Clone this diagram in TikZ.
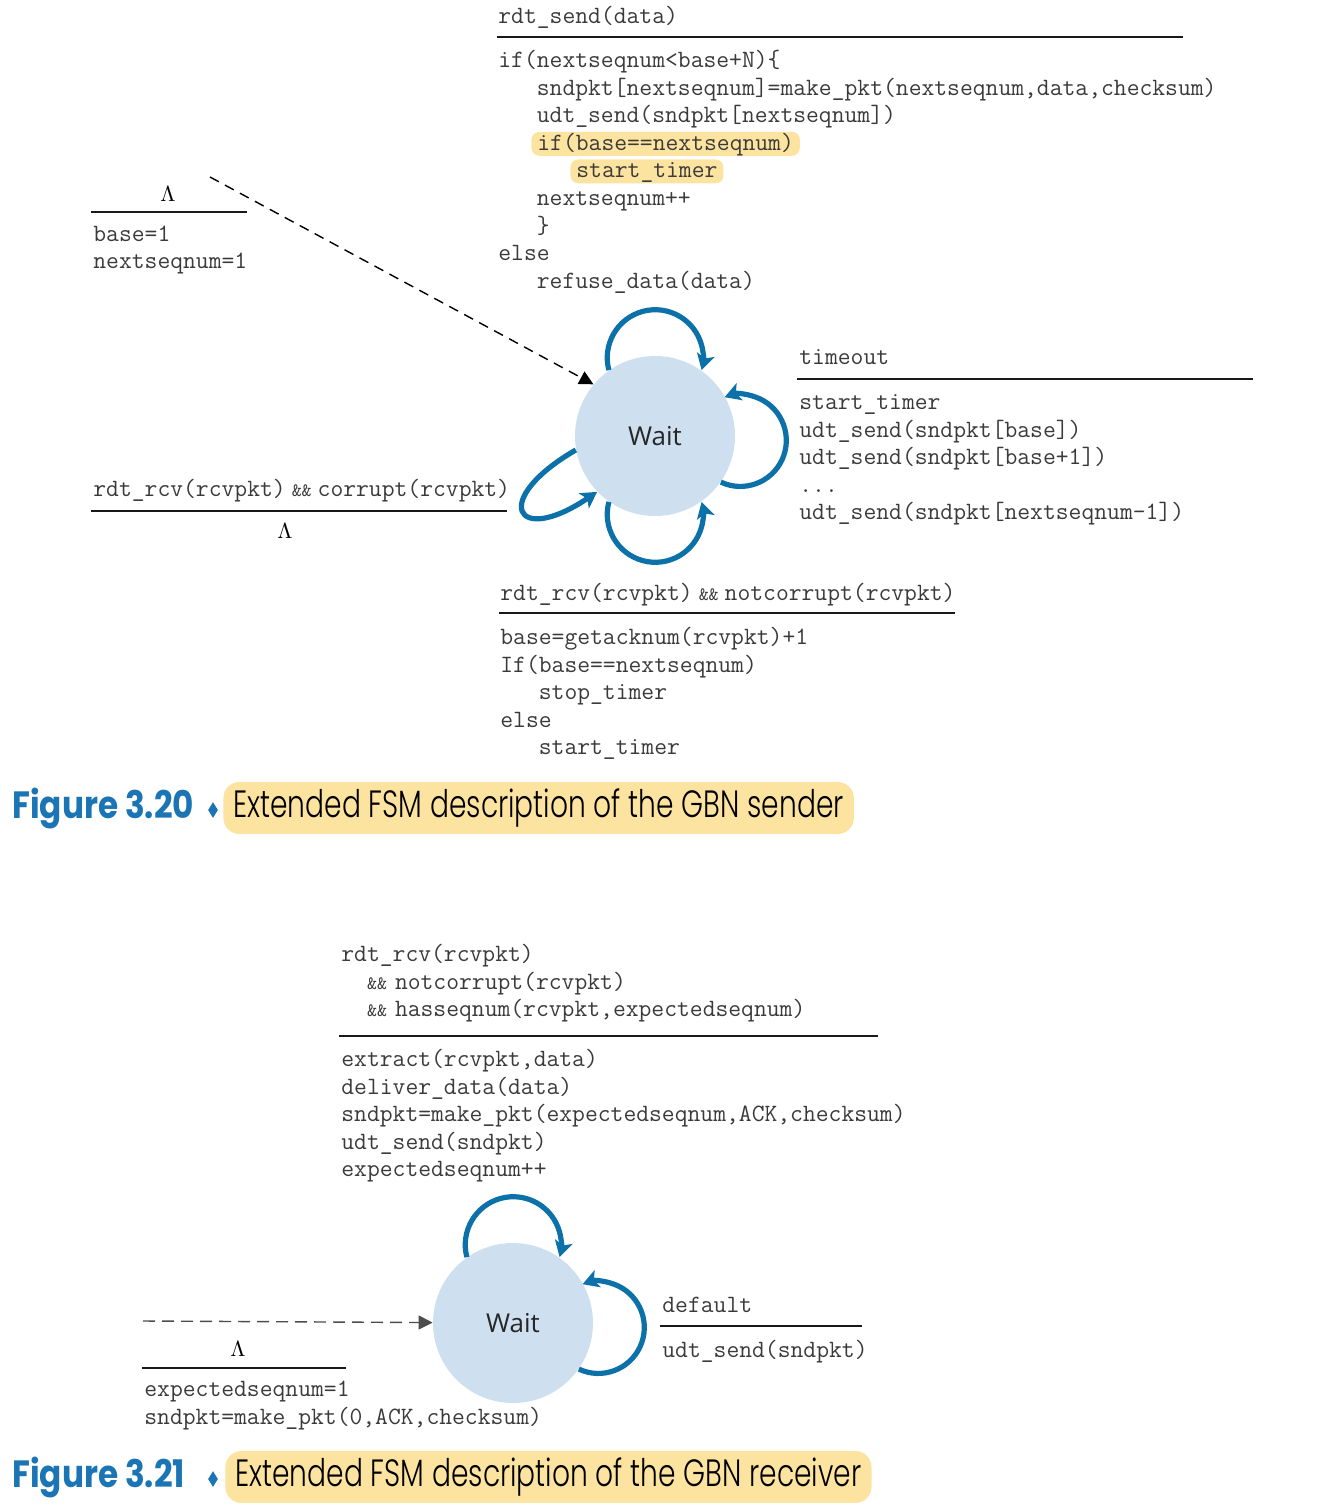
\documentclass[tikz,border=0pt]{standalone}
\usepackage{fontspec}
\usetikzlibrary{arrows.meta,shapes.geometric}
\newfontfamily\statefont{Open Sans}
\newfontfamily\capfont{Poppins}[FakeStretch=0.74, UprightFont=* Light]
\newfontfamily\fignofont{Poppins}[FakeStretch=0.86]
\definecolor{loopblue}{HTML}{0C71A9}
\definecolor{statefill}{HTML}{CEE0F0}
\definecolor{hilite}{HTML}{FDE3A0}
\definecolor{capblue}{HTML}{1B75B4}
\definecolor{codegray}{HTML}{3A3A3A}
\newcommand\ind{\phantom{000}}
\newcommand\aand{{\fontsize{9.5}{9.5}\selectfont\&\&}}
\begin{document}
\begin{tikzpicture}[x=0.5pt, y=0.5pt,
    code/.style={anchor=west, inner sep=0pt, text height=9pt, text depth=2.5pt,
      text=codegray, font=\ttfamily\fontsize{12.45}{14}\selectfont},
    hl/.style={fill=hilite, rounded corners=4pt, inner xsep=3pt, inner ysep=0.25pt},
    lam/.style={inner sep=0pt, font=\fontsize{11}{13}\selectfont},
    rule/.style={line width=1.2pt, draw=black!90},
    state/.style={circle, fill=statefill, minimum size=80pt, inner sep=0pt,
      font=\statefont\fontsize{13}{15}\selectfont, text=black!85},
    selfloop/.style={line width=2.6pt, draw=loopblue, -{Stealth[length=8pt, width=9pt, inset=2pt]}},
    init/.style={line width=0.7pt, dash pattern=on 5pt off 3.5pt, -{Triangle[length=7pt, width=7pt]}},
    figno/.style={anchor=west, inner sep=0pt, text=capblue, font=\fignofont\bfseries\fontsize{19}{22}\selectfont},
    bullet/.style={diamond, fill=capblue, inner sep=0pt, minimum width=5pt, minimum height=8pt},
    captab/.style={anchor=west, fill=hilite, rounded corners=8pt, inner xsep=5pt, minimum height=22pt,
      font=\capfont\fontsize{19}{22}\selectfont}]
  \useasboundingbox (0,0) rectangle (1340,-1509);

  % sender
  \node[state] (sw) at (655,-436) {Wait};

  % rdt_send
  \node[code] (sev) at (498,-17) {rdt\_send(data)};
  \draw[rule] (497,-37) -- (1183,-37);
  \node[code] (sa1) at (498,-61) {if(nextseqnum<base+N)\{};
  \node[code] (sa2) at (498,-88.6) {\ind sndpkt[nextseqnum]=make\_pkt(nextseqnum,data,checksum)};
  \node[code] (sa3) at (498,-116.2) {\ind udt\_send(sndpkt[nextseqnum])};
  \node[code, hl] (sa4) at (531,-143.8) {if(base==nextseqnum)};
  \node[code, hl] (sa5) at (570,-171.4) {start\_timer};
  \node[code] (sa6) at (498,-199) {\ind nextseqnum++};
  \node[code] (sa7) at (498,-226.6) {\ind\}};
  \node[code] (sa8) at (498,-254.2) {else};
  \node[code] (sa9) at (498,-281.8) {\ind refuse\_data(data)};

  % initial
  \node[lam] (slam) at (168,-194) {$\Lambda$};
  \draw[rule] (91,-212) -- (247,-212);
  \node[code] (si1) at (93,-235) {base=1};
  \node[code] (si2) at (93,-262) {nextseqnum=1};
  \coordinate (sinit) at (210,-177);
  \draw[init] (sinit) -- (sw.140);

  % timeout
  \node[code] (tev) at (799,-358) {timeout};
  \draw[rule] (797,-379) -- (1253,-379);
  \node[code] (ta1) at (799,-403) {start\_timer};
  \node[code] (ta2) at (799,-430.6) {udt\_send(sndpkt[base])};
  \node[code] (ta3) at (799,-458.2) {udt\_send(sndpkt[base+1])};
  \node[code] (ta4) at (799,-485.8) {...};
  \node[code] (ta5) at (799,-513.4) {udt\_send(sndpkt[nextseqnum-1])};

  % corrupt
  \node[code] (cev) at (93,-490) {rdt\_rcv(rcvpkt)\kern3pt\aand\kern3pt corrupt(rcvpkt)};
  \draw[rule] (91,-511) -- (507,-511);
  \node[lam] (clam) at (285,-531) {$\Lambda$};

  % ack
  \node[code] (aev) at (500,-594) {rdt\_rcv(rcvpkt)\kern3pt\aand\kern3pt notcorrupt(rcvpkt)};
  \draw[rule] (499,-613) -- (955,-613);
  \node[code] (aa1) at (500,-638) {base=getacknum(rcvpkt)+1};
  \node[code] (aa2) at (500,-665.6) {If(base==nextseqnum)};
  \node[code] (aa3) at (500,-693.2) {\ind stop\_timer};
  \node[code] (aa4) at (500,-720.8) {else};
  \node[code] (aa5) at (500,-748.4) {\ind start\_timer};

  \draw[selfloop] (sw.125) arc[start angle=195, end angle=-15, radius=24pt];
  \draw[selfloop] (sw.-35) arc[start angle=245, end angle=470, radius=23pt];
  \draw[selfloop] (sw.190) to[out=210, in=214, looseness=5.4] (sw.224);
  \draw[selfloop] (sw.-125) arc[start angle=165, end angle=375, radius=24pt];

  \node[figno] (fig1) at (12,-808) {Figure 3.20};
  \node[bullet] (dia1) at (213,-810) {};
  \node[captab] (cap1) at (223,-808) {Extended FSM description of the GBN sender};

  % receiver
  \node[state] (rw) at (513,-1323) {Wait};

  \node[code] (rev1) at (341,-955) {rdt\_rcv(rcvpkt)};
  \node[code] (rev2) at (341,-982.6) {\phantom{00}\aand\kern4pt notcorrupt(rcvpkt)};
  \node[code] (rev3) at (341,-1010.2) {\phantom{00}\aand\kern4pt hasseqnum(rcvpkt,expectedseqnum)};
  \draw[rule] (339,-1036) -- (878,-1036);
  \node[code] (ra1) at (341,-1060) {extract(rcvpkt,data)};
  \node[code] (ra2) at (341,-1087.6) {deliver\_data(data)};
  \node[code] (ra3) at (341,-1115.2) {sndpkt=make\_pkt(expectedseqnum,ACK,checksum)};
  \node[code] (ra4) at (341,-1142.8) {udt\_send(sndpkt)};
  \node[code] (ra5) at (341,-1170.4) {expectedseqnum++};

  \draw[selfloop] (rw.125) arc[start angle=195, end angle=-15, radius=24pt];
  \draw[selfloop] (rw.-35) arc[start angle=245, end angle=470, radius=23pt];

  \coordinate (rinit) at (143,-1321);
  \draw[init, draw=black!70, dash pattern=on 6pt off 3.5pt] (rinit) -- (rw);
  \node[lam] (rlam) at (238,-1349) {$\Lambda$};
  \draw[rule] (142,-1368) -- (346,-1368);
  \node[code] (ri1) at (144,-1390) {expectedseqnum=1};
  \node[code] (ri2) at (144,-1417.6) {sndpkt=make\_pkt(0,ACK,checksum)};

  \node[code] (dev) at (662,-1306) {default};
  \draw[rule] (660,-1326) -- (862,-1326);
  \node[code] (da1) at (662,-1351) {udt\_send(sndpkt)};

  \node[figno] (fig2) at (12,-1477) {Figure 3.21};
  \node[bullet] (dia2) at (213,-1479) {};
  \node[captab] (cap2) at (225,-1477) {Extended FSM description of the GBN receiver};
\end{tikzpicture}
\end{document}
